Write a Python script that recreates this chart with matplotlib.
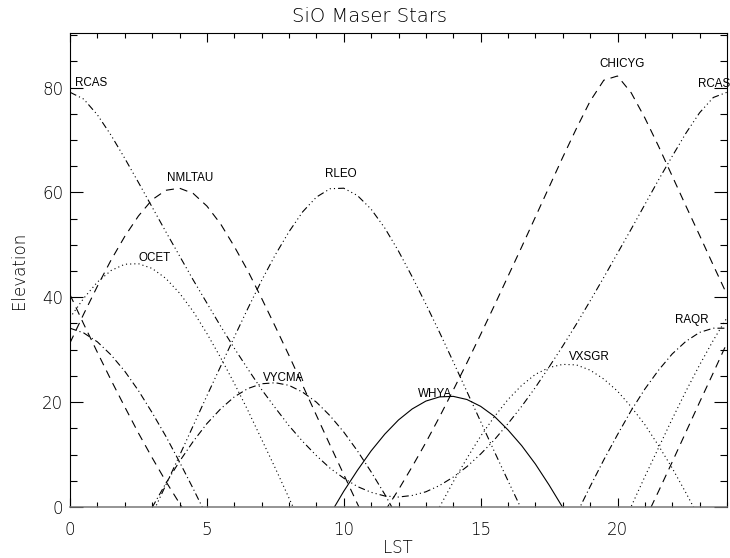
import numpy as np
import matplotlib
matplotlib.use('Agg')
import matplotlib.pyplot as plt
from matplotlib.ticker import MultipleLocator

plt.rcParams['lines.scale_dashes'] = False

NA = np.nan

# LST sampling grid (hours)
lst = np.arange(0, 24.01, 0.5)

# Elevation (deg) of each star at each LST sample (NA = well below horizon)
RCAS = [79.1, 77.8, 74.8, 70.9, 66.5, 61.9, 57.2, 52.5, 47.9, 43.3,
        38.9, 34.5, 30.3, 26.3, 22.4, 18.9, 15.5, 12.5, 9.8, 7.4,
        5.5, 3.9, 2.8, 2.1, 1.9, 2.2, 2.9, 4.1, 5.7, 7.7,
        10.1, 12.8, 15.9, 19.2, 22.8, 26.7, 30.7, 34.9, 39.3, 43.8,
        48.4, 53.0, 57.7, 62.4, 66.9, 71.3, 75.2, 78.1, 79.1]
NMLTAU = ([31.3, 36.8, 42.1, 47.1, 51.6, 55.5, 58.6, 60.4, 60.8, 59.8,
           57.4, 54.0, 49.7, 45.0, 39.8, 34.4, 28.9, 23.2, 17.5, 11.8,
           6.2, 0.6, -4.9] + [NA] * 19 +
          [-2.5, 3.0, 8.6, 14.3, 20.0, 25.6, 31.3])
OCET = ([36.1, 39.8, 42.9, 45.1, 46.3, 46.4, 45.5, 43.6, 40.8, 37.3,
         33.1, 28.5, 23.6, 18.4, 12.9, 7.4, 1.7, -4.0] + [NA] * 22 +
        [-5.6, 0.1, 5.8, 11.3, 16.8, 22.1, 27.1, 31.8, 36.1])
RLEO = ([NA] * 6 +
        [-1.4, 4.2, 9.8, 15.5, 21.2, 26.8, 32.4, 37.9, 43.2, 48.1,
         52.5, 56.3, 59.1, 60.7, 60.8, 59.4, 56.8, 53.2, 48.8, 43.9,
         38.7, 33.3, 27.7, 22.0, 16.3, 10.6, 5.0, -0.5] + [NA] * 15)
VYCMA = ([NA] * 6 +
         [-0.1, 4.5, 8.7, 12.5, 15.9, 18.7, 21.0, 22.6, 23.5, 23.7,
          23.2, 21.9, 20.0, 17.4, 14.3, 10.7, 6.7, 2.4, -2.3] + [NA] * 24)
WHYA = ([NA] * 19 +
        [-1.4, 3.0, 7.0, 10.7, 13.9, 16.6, 18.7, 20.2, 21.0, 21.1,
         20.5, 19.2, 17.3, 14.7, 11.7, 8.2, 4.2, -0.1] + [NA] * 12)
VXSGR = ([NA] * 27 +
         [0.0, 4.8, 9.3, 13.5, 17.2, 20.5, 23.2, 25.3, 26.6, 27.2,
          27.1, 26.1, 24.4, 22.1, 19.1, 15.7, 11.7, 7.4, 2.7, -2.2] + [NA] * 2)
CHICYG = ([40.5, 34.9, 29.5, 24.2, 19.1, 14.1, 9.4, 4.9, 0.7, -3.2] + [NA] * 13 +
          [-0.8, 3.3, 7.7, 12.3, 17.2, 22.3, 27.5, 32.9, 38.4, 44.0,
           49.6, 55.3, 61.0, 66.7, 72.2, 77.4, 81.4, 82.2, 79.0, 74.2,
           68.8, 63.1, 57.4, 51.8, 46.1, 40.5])
RAQR = ([34.1, 33.2, 31.5, 29.0, 25.9, 22.2, 18.0, 13.5, 8.6, 3.5, -1.8] + [NA] * 26 +
        [-1.4, 3.9, 9.0, 13.8, 18.4, 22.5, 26.1, 29.2, 31.6, 33.3, 34.1, 34.1])

series = [('RCAS', RCAS), ('NMLTAU', NMLTAU), ('OCET', OCET), ('RLEO', RLEO),
          ('VYCMA', VYCMA), ('WHYA', WHYA), ('VXSGR', VXSGR), ('CHICYG', CHICYG),
          ('RAQR', RAQR)]

# Star labels (text, LST, elevation)
lab_t = ['RCAS', 'RCAS', 'NMLTAU', 'RLEO', 'OCET', 'CHICYG', 'VYCMA', 'WHYA', 'RAQR', 'VXSGR']
lab_x = [0.18, 22.95, 3.54, 9.32, 2.50, 19.32, 7.05, 12.71, 22.09, 18.22]
lab_y = [80.2, 80.1, 62.2, 63.0, 47.0, 84.0, 24.1, 21.0, 35.1, 28.0]

styles = {
    'dash': (0, (5.8, 4.3)),
    'dot': (0, (0.8, 2.2)),
    'dashdot': (0, (5.0, 2.2, 0.8, 2.2)),
    'dash3dot': (0, (5.0, 2.2, 0.8, 2.2, 0.8, 2.2, 0.8, 2.2)),
    'solid': '-',
}
star_style = {'RCAS': 'dash3dot', 'NMLTAU': 'dash', 'OCET': 'dot', 'RLEO': 'dash3dot',
              'VYCMA': 'dashdot', 'WHYA': 'solid', 'VXSGR': 'dot', 'CHICYG': 'dash',
              'RAQR': 'dashdot'}

fig = plt.figure(figsize=(7.3, 5.58), dpi=100)
ax = fig.add_axes([70/730, 1-507/558, 657/730, 474/558])
for name, el in series:
    ax.plot(lst, el, color='black', lw=0.8, linestyle=styles[star_style[name]])

ax.set_xlim(0, 24)
ax.set_ylim(0, 90.4)
ax.xaxis.set_major_locator(MultipleLocator(5))
ax.xaxis.set_minor_locator(MultipleLocator(1))
ax.yaxis.set_major_locator(MultipleLocator(20))
ax.yaxis.set_minor_locator(MultipleLocator(5))
ax.tick_params(which='both', direction='in', top=True, right=True, width=0.8, color='black')
ax.tick_params(axis='x', which='major', length=6.8, pad=10)
ax.tick_params(axis='x', which='minor', length=3.4)
ax.tick_params(axis='y', which='major', length=9.4, pad=5)
ax.tick_params(axis='y', which='minor', length=4.7)
for sp in ax.spines.values():
    sp.set_linewidth(0.8)
ax.spines['bottom'].set_color('#777777')
ax.spines['bottom'].set_linewidth(1.1)
for lab in ax.get_xticklabels() + ax.get_yticklabels():
    lab.set_fontfamily('DejaVu Sans')
    lab.set_fontweight('light')
    lab.set_fontsize(12)

fig.text(369/730, 1-17/558, 'SiO Maser Stars', ha='center', va='center', fontsize=14,
         family='DejaVu Sans', weight='light')
fig.text(398/730, 1-548/558, 'LST', ha='center', va='center', fontsize=12,
         family='DejaVu Sans', weight='light')
fig.text(19/730, 1-270/558, 'Elevation', ha='center', va='center', rotation=90, fontsize=12,
         family='DejaVu Sans', weight='light')

for x, y, t in zip(lab_x, lab_y, lab_t):
    ax.text(x, y, t, ha='left', va='baseline', fontsize=8.4, family='Liberation Sans',
            clip_on=False)

fig.savefig('out.png', dpi=100)
